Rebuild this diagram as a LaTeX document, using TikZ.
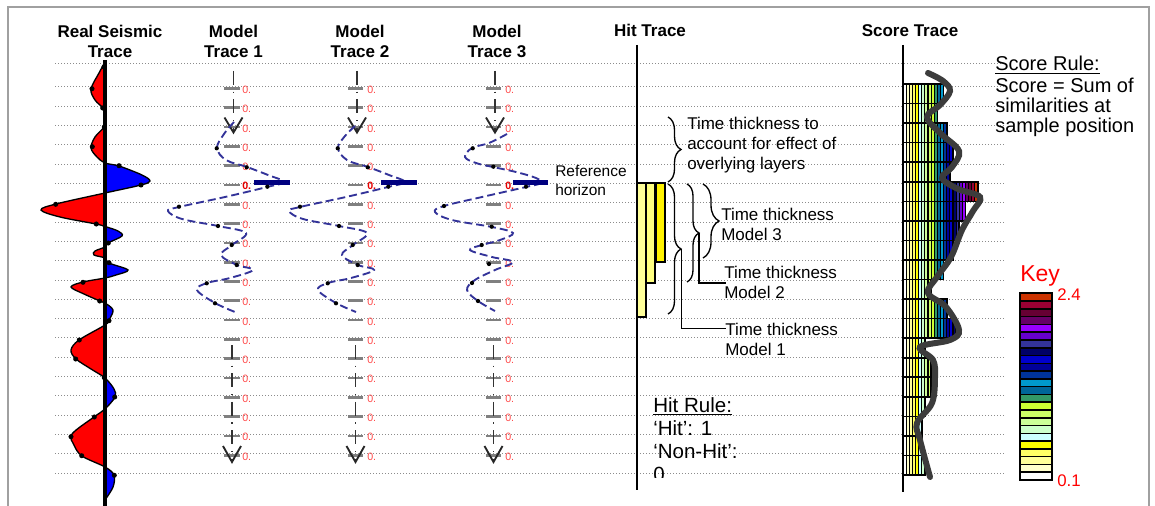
\documentclass[tikz,border=0pt]{standalone}
\usepackage{fontspec}
\setmainfont{Liberation Sans}
\usetikzlibrary{decorations.pathreplacing,calc}
\newcommand\myfs[2]{\fontsize{#1}{#2}\selectfont}
\definecolor{k1}{HTML}{FFFFFF}
\definecolor{k2}{HTML}{FFFFCC}
\definecolor{k3}{HTML}{FFFF99}
\definecolor{k4}{HTML}{FFFF66}
\definecolor{k5}{HTML}{FFFF00}
\definecolor{k6}{HTML}{CCFFFF}
\definecolor{k7}{HTML}{CCFFCC}
\definecolor{k8}{HTML}{CCFF99}
\definecolor{k9}{HTML}{CCFF66}
\definecolor{k10}{HTML}{CCFF33}
\definecolor{k11}{HTML}{339966}
\definecolor{k12}{HTML}{006699}
\definecolor{k13}{HTML}{0099CC}
\definecolor{k14}{HTML}{003399}
\definecolor{k15}{HTML}{000099}
\definecolor{k16}{HTML}{0000CC}
\definecolor{k17}{HTML}{000066}
\definecolor{k18}{HTML}{333399}
\definecolor{k19}{HTML}{6600CC}
\definecolor{k20}{HTML}{9900FF}
\definecolor{k21}{HTML}{660066}
\definecolor{k22}{HTML}{660033}
\definecolor{k23}{HTML}{990033}
\definecolor{k24}{HTML}{CC3300}
\definecolor{navyd}{HTML}{000080}
\definecolor{curveblue}{HTML}{333399}
\definecolor{zred}{HTML}{FF4A4A}
\definecolor{scoregray}{HTML}{3C3C3C}
\definecolor{hy1}{HTML}{FFFF99}
\definecolor{hy2}{HTML}{FFFF80}
\definecolor{framegray}{HTML}{A0A0A0}
\begin{document}
\begin{tikzpicture}[x=0.75pt,y=-0.75pt,
 gridline/.style={draw=black!45, line width=0.75pt, dash pattern=on 0.75pt off 1.5pt},
 mbar/.style={draw=black!50, line width=2pt},
 zlab/.style={text=zred, font=\myfs{8}{9}, anchor=west, inner sep=0pt},
 zlabb/.style={text=red!90!black, font=\bfseries\myfs{8}{9}, anchor=west, inner sep=0pt},
 ddarrow/.style={draw=black!80, line width=1.1pt, dash pattern=on 10.5pt off 5pt on 0.8pt off 5pt},
 vhead/.style={draw=black!85, line width=1.4pt, line join=miter},
 mcurve/.style={draw=curveblue, line width=1.4pt, dash pattern=on 6pt off 3pt},
 refbar/.style={fill=navyd},
 title/.style={font=\bfseries\myfs{12.75}{15}, align=center, anchor=north, inner sep=0pt},
 note/.style={font=\myfs{12.75}{15}, align=left, anchor=north west, inner sep=0pt},
 bracedec/.style={draw=black, line width=1pt, decorate, decoration={brace, amplitude=#1}},
 conn/.style={draw=black, line width=0.9pt},
 ybar/.style={draw=black, line width=1pt},
]
\useasboundingbox (0,0) rectangle (1155,506);
\fill[white] (0,0) rectangle (1155,506);
\draw[framegray, line width=1.3pt] (8.3,7.3) rectangle (1149,530);

% grid
\draw[gridline] (55,64) -- (1005,64);
\foreach \k in {0,...,20} \draw[gridline] (55,{87+19.3*\k}) -- (1005,{87+19.3*\k});

% titles
\node[title] (tReal) at (110,23) {\strut Real Seismic\\Trace};
\node[title] (tM1) at (233.5,23) {\strut Model\\Trace 1};
\node[title] (tM2) at (360,23) {\strut Model\\Trace 2};
\node[title] (tM3) at (497,23) {\strut Model\\Trace 3};
\node[title] (tHit) at (650,22) {\strut Hit Trace};
\node[title] (tScore) at (910,22) {\strut Score Trace};

% real seismic trace
\path[save path=\seispath] plot[smooth, tension=0.55] coordinates {
(105,62) (99,73) (91,89) (95,100) (103,108) (105,114) (104.5,120) (104,127)
(95,137) (91,148) (97,157) (105,163) (119,166) (142,175) (150,181) (141,185)
(105,193) (56,204) (41,210) (60,217) (96,224) (105,226.5) (118,231) (122,236)
(108,243) (105,247) (95,251) (94,255) (105,258) (109,263) (128,270) (116,275)
(105,278) (83,282) (71,287) (84,294) (100,301) (105,303) (113,310) (109,320)
(105,325) (79,340) (71,350) (76,359) (91,369) (105,378) (114,389) (115,397)
(105,409) (94,417) (72,434) (74,445) (82,456) (105,467) (114,475) (113,487)
(105,500)};
\begin{scope}
\clip (0,0) rectangle (105,506);
\fill[red, use path=\seispath];
\end{scope}
\begin{scope}
\clip (105,0) rectangle (200,506);
\fill[blue, use path=\seispath];
\end{scope}
\draw[black, line width=1pt, use path=\seispath];
\draw[black, line width=2.4pt] (105,60) -- (105,510);
\foreach \p in {(104,67), (92,88.7), (102.7,108), (104.3,127), (92.3,146.7), (119,165.7), (141,185), (55.7,204.3), (96.3,224), (108.3,243), (109,262.7), (83,282.3), (99.7,301), (109,320.7), (79.3,340), (75.7,359), (104.3,377.7), (114.7,397), (94.3,417), (71,436.7), (81.7,455.7), (114.3,475.3)}
  \fill[black] \p circle (1.9pt);

% model traces: bars, labels, arrows
\foreach \c/\lx/\nm in {232/242/1, 355.5/367/2, 493.5/505/3} {
  \foreach \k in {0,...,19}
    \draw[mbar] ({\c-7.8},{88.5+19.3*\k}) -- ({\c+7.8},{88.5+19.3*\k});
  \foreach \k in {0,1,2,3,4,6,7,8,9,10,11,12,13,14,15,16,17,18,19}
    \node[zlab] (z\nm-\k) at (\lx,{89.8+19.3*\k}) {0.};
  \node[zlabb] (z\nm-5) at (\lx,{89.8+19.3*5}) {0.};
  \coordinate (ats\nm) at ({\c+1.5},71);
  \coordinate (ate\nm) at ({\c+1.5},132.5);
  \draw[ddarrow] (ats\nm) -- (ate\nm);
  \draw[vhead] ($(ate\nm)+(-9,-15)$) -- (ate\nm) -- ($(ate\nm)+(9,-15)$);
  \coordinate (abs\nm) at (\c,345);
  \coordinate (abe\nm) at (\c,462);
  \draw[ddarrow] (abs\nm) -- (abe\nm);
  \draw[vhead] ($(abe\nm)+(-9,-16)$) -- (abe\nm) -- ($(abe\nm)+(9,-16)$);
}

% model curves
\draw[mcurve] plot[smooth, tension=0.6] coordinates {
(234,122) (224,134) (217,148) (226,160) (247,167) (268,175) (284,182) (267,187)
(225,197) (179,207) (168,211) (182,219) (218,226) (246,233) (232,245) (221,255)
(237,265) (253,270) (230,278) (207,283) (197,290) (215,303) (235,312)};
\begin{scope}[xshift=90.75pt]
\draw[mcurve] plot[smooth, tension=0.6] coordinates {
(234,126) (224,136) (217,148) (226,160) (247,167) (268,175) (284,182) (267,187)
(225,197) (179,207) (168,211) (182,219) (218,226) (246,233) (232,245) (221,255)
(237,265) (253,270) (230,278) (207,283) (197,290) (215,303) (235,312)};
\end{scope}
\draw[mcurve] plot[smooth, tension=0.6] coordinates {
(507,134) (489,143) (472,148) (465,157) (476,163) (493,167) (516,172) (536,178)
(541,183) (526,187) (482,197) (444,206) (435,212) (452,220) (492,227) (513,233)
(500,240) (482,245) (470,250) (492,257) (513,262) (495,270) (475,280) (467,290)
(478,301) (495,311)};

% reference bars
\fill[refbar] (254,179.5) rectangle (290,184.5);
\fill[refbar] (381,179.5) rectangle (417,184.5);
\fill[refbar] (513,179.5) rectangle (548,184.5);

% sample dots on model curves
\foreach \p in {(216.7,148.3), (246.7,167.3), (267.3,186.7), (179,206.7), (218,226), (231.7,245), (236.7,265), (206.7,283.3), (215,303.3),
 (337.7,148.3), (367.7,167.3), (388.3,186.7), (300,206.7), (339,226), (352.7,245), (357.7,265), (327.7,283.3), (336,303.3),
 (472.7,148.3), (493.3,166.7), (526,186.7), (444,206), (491.7,226.7), (481.7,245), (489,264), (472,283), (478,301)}
  \fill[black] \p circle (1.6pt);

\node[font=\myfs{11.6}{13.75}, align=left, anchor=north west, inner sep=0pt] (tRef) at (555,163.9) {\strut Reference\\horizon};

% hit trace
\draw[black, line width=1.1pt] (637,45) -- (637,490);
\draw[ybar, fill=hy1] (637,183) rectangle (646,317);
\draw[ybar, fill=hy2] (646,183) rectangle (655,283);
\draw[ybar, fill=yellow] (656,183) rectangle (665,262);

\draw[bracedec=9.75pt] (668,117) -- (668,182);
\draw[bracedec=9.75pt] (668,184) -- (668,314);
\draw[bracedec=9pt] (687,184) -- (687,282);
\draw[bracedec=12pt] (703,184) -- (703,258);

\node[note] (nOver) at (687,115.3) {\strut Time thickness to\\account for effect of\\overlying layers};
\node[note] (nM3) at (721,206) {\strut Time thickness\\Model 3};
\node[note] (nM2) at (724,264) {\strut Time thickness\\Model 2};
\node[note] (nM1) at (725,321) {\strut Time thickness\\Model 1};

\coordinate (b1tip) at (681.5,249);
\coordinate (c1) at (726,328.5);
\draw[conn] (b1tip) |- (c1);
\coordinate (b2tip) at (699,233);
\coordinate (c2) at (726,283);
\draw[conn] (b2tip) |- (c2);

\begin{scope}
\clip (640,380) rectangle (800,477.5);
\node[font=\myfs{15.4}{17.25}, align=left, anchor=north west, inner sep=0pt] (nHit) at (653,396.2) {\strut\underline{Hit Rule:}\\`Hit': 1\\`Non-Hit':\\0};
\end{scope}

% score trace
\foreach \n [count=\r from 0] in {13,11,14,16,15,24,20,18,16,13,9,14,17,7,9,9,7,6,6,7} {
  \foreach \i in {1,...,\n}
    \filldraw[fill=k\i, draw=black, line width=0.8pt] ({903+3.125*(\i-1)},{84+19.55*\r}) rectangle ({903+3.125*\i},{84+19.55*(\r+1)});
  \draw[black, line width=1.2pt] (903,{84+19.55*\r}) rectangle ({903+3.125*\n},{84+19.55*(\r+1)});
}
\draw[black, line width=1.1pt] (903,45) -- (903,492);
\draw[scoregray, line width=4.5pt, line cap=round] plot[smooth, tension=0.6] coordinates {
(928,73) (943,81) (950,91) (940,105) (927,117) (940,133) (959,151) (952,167)
(942,178) (958,189) (980,197) (973,211) (962,230) (951,257) (937,277) (928,293)
(946,307) (959,330) (950,340) (920,347) (933,360) (935,377) (932,403) (917,423)
(920,440) (930,477)};

\node[font=\myfs{15}{14.8}, align=left, anchor=north west, inner sep=0pt] (nScore) at (995,56.2) {\strut\underline{Score Rule:}\\Score = Sum of\\similarities at\\sample position};

% key
\foreach \i in {1,...,24}
  \filldraw[fill=k\i, draw=black, line width=1.2pt] (1020,{480-7.78*\i}) rectangle (1052,{480-7.78*(\i-1)});
\node[text=red, font=\myfs{17.25}{20}, anchor=base west, inner sep=0pt] (kKey) at (1020,281.7) {Key};
\node[text=red, font=\myfs{12.6}{15}, anchor=base west, inner sep=0pt] (kHi) at (1057,300) {2.4};
\node[text=red, font=\myfs{12.6}{15}, anchor=base west, inner sep=0pt] (kLo) at (1057,486) {0.1};
\end{tikzpicture}
\end{document}
